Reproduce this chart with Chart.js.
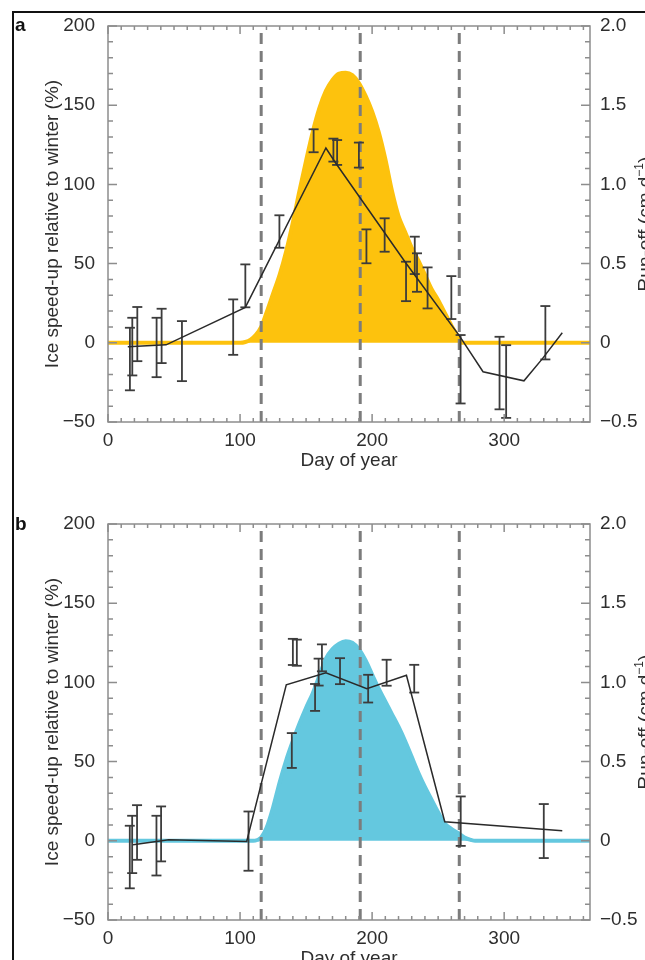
<!DOCTYPE html>
<html>
<head>
<meta charset="utf-8">
<script src="https://cdn.jsdelivr.net/npm/chart.js@4.4.0/dist/chart.umd.min.js"></script>
<style>
  html, body { margin: 0; padding: 0; background: #fff; }
  body { width: 645px; height: 960px; overflow: hidden; position: relative; font-family: "Liberation Sans", Arial, sans-serif; }
  .frame { position: absolute; left: 12px; top: 11px; right: 0; bottom: 0; border-left: 2px solid #111; border-top: 2px solid #111; }
  .panel { position: absolute; left: 0; }
  .letter { position: absolute; left: 15px; font: bold 19px "Liberation Sans", Arial, sans-serif; color: #111; }
</style>
</head>
<body>
<div class="frame"></div>
<canvas id="panelA" class="panel" width="645" height="480" style="top:0"></canvas>
<canvas id="panelB" class="panel" width="645" height="480" style="top:498px"></canvas>
<div class="letter" style="top:14px">a</div>
<div class="letter" style="top:513px">b</div>
<script>
// Day numbers of the three dashed season markers
const phaseDays = [116, 191, 266];

// Panel a: speed-up curve, error bars and run-off
const lineDaysA = [15, 44, 104, 165, 172, 225, 266, 284, 315, 329, 344];
const lineSpeedA = [-2.5, -1.3, 22.4, 123, 114, 51, 4.5, -18.3, -24, -10, 6.3];

const errDaysA = [16.6, 18.4, 22.2, 36.8, 40.6, 56, 94.8, 104, 129.8, 155.7, 170.7, 173.5, 190, 195.7, 209.5, 225.7, 232.3, 234, 242, 260, 267, 296.5, 301.5, 331.2];
const errHighA = [9.5, 15.8, 22.6, 15.8, 21.5, 13.7, 27.4, 49.5, 80.5, 134.8, 128.9, 128, 126.4, 71.6, 78.6, 51.2, 67, 56.5, 47.6, 42.1, 4.9, 3.8, -1.5, 23.2];
const errLowA = [-30, -20.6, -11.6, -21.7, -12.8, -24.2, -7.6, 22.4, 60, 120.3, 114.4, 112.3, 110.6, 50.2, 57.5, 26.3, 43.4, 32.2, 21.7, 15, -38.3, -42, -47.4, -10.5];

const runoffDaysA = [0, 100, 104, 108, 112, 116, 120, 125, 130, 135, 140, 145, 150, 155, 160, 165, 170, 175, 180, 185, 190, 195, 200, 205, 210, 215, 220, 225, 230, 235, 240, 245, 250, 255, 260, 265, 268, 365];
const runoffA = [0, 0, 0.005, 0.02, 0.05, 0.10, 0.19, 0.31, 0.43, 0.58, 0.76, 0.96, 1.15, 1.33, 1.48, 1.59, 1.66, 1.70, 1.705, 1.69, 1.64, 1.56, 1.46, 1.33, 1.16, 0.96, 0.80, 0.70, 0.60, 0.52, 0.43, 0.34, 0.27, 0.19, 0.11, 0.04, 0, 0];

// Panel b
const lineDaysB = [19, 46, 105, 135, 165, 196, 226, 255, 344];
const lineSpeedB = [-2.5, 0.6, -0.4, 98.5, 106, 96, 104.5, 12, 6.3];

const errDaysB = [16.5, 18.3, 22, 36.7, 40.2, 106.4, 139.2, 140, 143, 156.8, 159.5, 162, 175.7, 197, 211, 231.9, 267.1, 330];
const errHighB = [9.5, 15.8, 22.5, 15.8, 21.7, 18.5, 68, 127.5, 127, 99, 115, 124, 115.3, 104.8, 114.3, 111.1, 28, 23.2];
const errLowB = [-30, -20.4, -12, -21.9, -13, -18.9, 46, 111, 110.5, 82, 98, 107, 98.9, 87.3, 97.9, 93.6, -3.2, -10.9];

const runoffDaysB = [0, 110, 113, 116, 120, 125, 130, 135, 140, 145, 150, 155, 160, 165, 170, 175, 180, 185, 190, 195, 200, 205, 210, 215, 220, 225, 230, 235, 240, 245, 250, 255, 260, 265, 270, 275, 278, 365];
const runoffB = [0, 0, 0.005, 0.02, 0.08, 0.21, 0.37, 0.51, 0.63, 0.74, 0.84, 0.93, 1.04, 1.15, 1.21, 1.245, 1.26, 1.25, 1.21, 1.14, 1.05, 0.96, 0.88, 0.80, 0.72, 0.63, 0.53, 0.43, 0.34, 0.26, 0.18, 0.11, 0.075, 0.05, 0.02, 0.005, 0, 0];

const speedTicks = { min: -50, max: 200, step: 50 };
const runoffTicks = { min: -0.5, max: 2.0, step: 0.5 };

const FONT = '"Liberation Sans", Arial, sans-serif';
const TEXT = '#2e2e2e';
const AXIS = '#8d8d8d';
const SIZE = 19;

const minus = s => String(s).replace('-', '\u2212');

function pairs(xs, ys) {
    return xs.map((x, i) => ({ x, y: ys[i] }));
}

// vertical segments separated by gaps, one per error bar / marker
function segments(xs, lows, highs) {
    const out = [];
    xs.forEach((x, i) => {
        out.push({ x, y: lows[i] }, { x, y: highs[i] }, { x, y: null });
    });
    return out;
}

// box, inward ticks and the right-hand axis title
const frameTicks = {
    id: 'frameTicks',
    afterDatasetsDraw(chart) {
        const { ctx, chartArea: a, scales } = chart;
        ctx.save();
        ctx.strokeStyle = AXIS;
        ctx.lineWidth = 1.5;
        ctx.strokeRect(a.left, a.top, a.right - a.left, a.bottom - a.top);
        ctx.beginPath();
        for (let d = 0; d <= 360; d += 10) {
            const px = scales.x.getPixelForValue(d);
            const len = d % 100 === 0 ? 8 : 4;
            ctx.moveTo(px, a.bottom); ctx.lineTo(px, a.bottom - len);
            ctx.moveTo(px, a.top); ctx.lineTo(px, a.top + len);
        }
        for (let v = -50; v <= 200; v += 10) {
            const py = scales.y.getPixelForValue(v);
            const len = v % 50 === 0 ? 9 : 5;
            ctx.moveTo(a.left, py); ctx.lineTo(a.left + len, py);
        }
        for (let k = -5; k <= 20; k++) {
            const py = scales.y1.getPixelForValue(k / 10);
            const len = k % 5 === 0 ? 9 : 5;
            ctx.moveTo(a.right, py); ctx.lineTo(a.right - len, py);
        }
        ctx.stroke();

        // Run-off (cm d^-1), reading upwards
        const main = 'Run-off (cm d';
        const sup = '\u22121';
        ctx.fillStyle = TEXT;
        ctx.textBaseline = 'middle';
        ctx.textAlign = 'left';
        ctx.font = SIZE + 'px ' + FONT;
        const wMain = ctx.measureText(main).width;
        const wClose = ctx.measureText(')').width;
        ctx.font = '12px ' + FONT;
        const wSup = ctx.measureText(sup).width;
        const total = wMain + wSup + wClose;
        ctx.translate(646, (a.top + a.bottom) / 2);
        ctx.rotate(-Math.PI / 2);
        const x0 = -total / 2;
        ctx.font = SIZE + 'px ' + FONT;
        ctx.fillText(main, x0, 0);
        ctx.font = '12px ' + FONT;
        ctx.fillText(sup, x0 + wMain, -6);
        ctx.font = SIZE + 'px ' + FONT;
        ctx.fillText(')', x0 + wMain + wSup, 0);
        ctx.restore();
    }
};

function makePanel(id, p) {
    const ctx = document.getElementById(id).getContext('2d');
    const phaseLows = phaseDays.map(() => speedTicks.min);
    const phaseHighs = phaseDays.map(() => speedTicks.max);
    const font = { family: FONT, size: SIZE };

    return new Chart(ctx, {
        type: 'line',
        data: {
            datasets: [
                {
                    // mean speed-up
                    data: pairs(p.lineDays, p.lineSpeed),
                    yAxisID: 'y',
                    borderColor: '#2a2a2a',
                    borderWidth: 1.5,
                    pointRadius: 0,
                    tension: 0,
                    order: 0
                },
                {
                    // error bars with caps
                    data: segments(p.errDays, p.errLow, p.errHigh),
                    yAxisID: 'y',
                    borderColor: '#3c3c3c',
                    borderWidth: 1.8,
                    spanGaps: false,
                    pointStyle: 'line',
                    pointRadius: 5,
                    pointBorderWidth: 1.8,
                    pointBorderColor: '#3c3c3c',
                    order: 1
                },
                {
                    // season markers
                    data: segments(phaseDays, phaseLows, phaseHighs),
                    yAxisID: 'y',
                    borderColor: '#7c7c7c',
                    borderWidth: 3,
                    borderDash: [11, 7],
                    borderCapStyle: 'butt',
                    spanGaps: false,
                    pointRadius: 0,
                    order: 2
                },
                {
                    // modelled run-off
                    data: pairs(p.runoffDays, p.runoff),
                    yAxisID: 'y1',
                    borderColor: p.colour,
                    backgroundColor: p.colour,
                    borderWidth: 4,
                    fill: 'origin',
                    pointRadius: 0,
                    cubicInterpolationMode: 'monotone',
                    order: 3
                }
            ]
        },
        options: {
            responsive: false,
            animation: false,
            layout: { padding: { top: 26, left: 0, right: 0, bottom: 0 } },
            plugins: {
                legend: { display: false },
                tooltip: { enabled: false }
            },
            scales: {
                x: {
                    type: 'linear',
                    min: 0,
                    max: 365,
                    grid: { display: false },
                    border: { display: false },
                    ticks: {
                        stepSize: 100,
                        includeBounds: false,
                        padding: -1,
                        maxRotation: 0,
                        color: TEXT,
                        font
                    },
                    title: {
                        display: true,
                        text: 'Day of year',
                        color: TEXT,
                        font,
                        padding: { top: 0, bottom: 8 }
                    },
                    afterFit(s) { s.height = 58; }
                },
                y: {
                    position: 'left',
                    min: speedTicks.min,
                    max: speedTicks.max,
                    grid: { display: false },
                    border: { display: false },
                    ticks: {
                        stepSize: speedTicks.step,
                        padding: 5,
                        color: TEXT,
                        font,
                        callback: v => minus(v)
                    },
                    title: {
                        display: true,
                        text: 'Ice speed-up relative to winter (%)',
                        color: TEXT,
                        font,
                        padding: { top: 41, bottom: 0 }
                    },
                    afterFit(s) { s.width = 108; }
                },
                y1: {
                    position: 'right',
                    min: runoffTicks.min,
                    max: runoffTicks.max,
                    grid: { display: false },
                    border: { display: false },
                    ticks: {
                        stepSize: runoffTicks.step,
                        padding: 2,
                        color: TEXT,
                        font,
                        callback: v => Math.abs(v) < 1e-9 ? '0' : minus(v.toFixed(1))
                    },
                    afterFit(s) { s.width = 55; }
                }
            }
        },
        plugins: [frameTicks]
    });
}

makePanel('panelA', {
    lineDays: lineDaysA, lineSpeed: lineSpeedA,
    errDays: errDaysA, errHigh: errHighA, errLow: errLowA,
    runoffDays: runoffDaysA, runoff: runoffA,
    colour: '#fdc20d'
});

makePanel('panelB', {
    lineDays: lineDaysB, lineSpeed: lineSpeedB,
    errDays: errDaysB, errHigh: errHighB, errLow: errLowB,
    runoffDays: runoffDaysB, runoff: runoffB,
    colour: '#64c8df'
});
</script>
</body>
</html>
